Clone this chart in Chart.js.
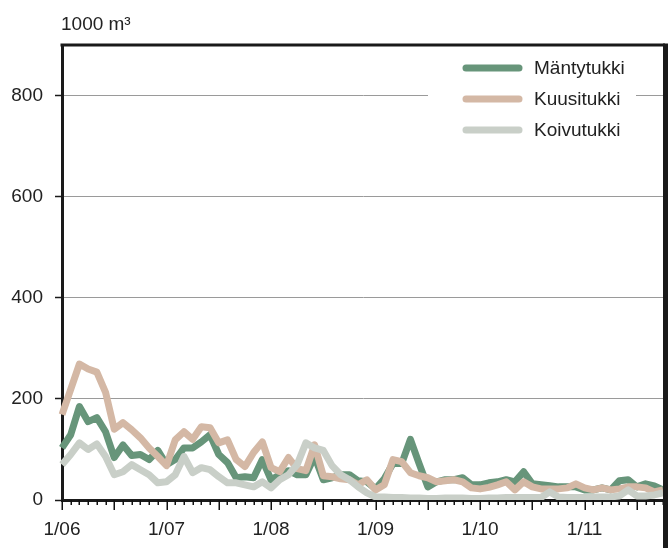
<!DOCTYPE html>
<html>
<head>
<meta charset="utf-8">
<script src="https://cdn.jsdelivr.net/npm/chart.js@4.4.0/dist/chart.umd.min.js"></script>
<style>
html, body { margin: 0; padding: 0; background: #fff; }
canvas { display: block; }
</style>
</head>
<body>
<canvas id="chart" width="668" height="548"></canvas>
<script>
// data, monthly 1/06 .. 10/11
const yearLabels = ['06', '07', '08', '09', '10', '11'];
const monthsPerYear = 12;
const unitLabel = '1000 m³';
const seriesNames = ['Mäntytukki', 'Kuusitukki', 'Koivutukki'];

const mantytukki = [103, 129, 185, 155, 163, 135, 84, 109, 88, 90, 80, 98,
    70, 80, 103, 103, 115, 129, 90, 74, 44, 46, 44, 80,
    40, 50, 58, 50, 50, 86, 40, 44, 50, 50, 38, 36,
    22, 42, 72, 72, 120, 72, 26, 36, 40, 40, 44, 30,
    30, 34, 36, 40, 36, 56, 32, 30, 28, 26, 26, 26,
    20, 20, 24, 20, 38, 40, 26, 32, 28, 20];
const kuusitukki = [169, 219, 269, 259, 253, 213, 140, 153, 139, 123, 103, 86,
    68, 119, 135, 120, 145, 143, 113, 119, 80, 66, 94, 115,
    64, 56, 84, 62, 58, 109, 48, 46, 42, 40, 30, 40,
    20, 30, 80, 76, 54, 48, 44, 36, 38, 40, 36, 24,
    22, 25, 30, 36, 20, 36, 26, 22, 22, 22, 24, 32,
    24, 20, 24, 20, 22, 26, 26, 24, 16, 20];
const koivutukki = [70, 90, 113, 100, 111, 86, 50, 56, 70, 60, 50, 34,
    36, 50, 86, 54, 64, 60, 46, 34, 34, 30, 26, 36,
    24, 40, 50, 70, 113, 103, 98, 68, 50, 40, 26, 14,
    6, 6, 5, 5, 4, 4, 3, 3, 4, 4, 4, 3,
    3, 4, 4, 5, 5, 5, 5, 5, 16, 6, 5, 5,
    5, 6, 6, 6, 8, 20, 8, 8, 10, 14];

const yMax = 900;
const yStep = 200;
const lastTick = 800;

const colors = ['#67957a', '#d4b8a5', '#c9cfc8'];
const fontFamily = "'Liberation Sans', Arial, sans-serif";

const categories = [];
yearLabels.forEach(function (yy) {
    for (let m = 1; m <= monthsPerYear; m++) categories.push(m + '/' + yy);
});
categories.length = mantytukki.length;

const frame = {
    id: 'frame',
    beforeDatasetsDraw(chart) {
        const ctx = chart.ctx;
        const a = chart.chartArea;
        const x = chart.scales.x;
        ctx.save();
        // month and half-year tick marks under the axis
        ctx.strokeStyle = '#111';
        ctx.lineWidth = 1.5;
        for (let i = 0; i < categories.length; i++) {
            const px = Math.round(x.getPixelForValue(i)) + 0.25;
            const len = i % 6 === 0 ? 10 : 5;
            ctx.beginPath();
            ctx.moveTo(px, a.bottom);
            ctx.lineTo(px, a.bottom + len);
            ctx.stroke();
        }
        // unit label
        ctx.fillStyle = '#222';
        ctx.font = '19px ' + fontFamily;
        ctx.textBaseline = 'alphabetic';
        ctx.textAlign = 'left';
        ctx.fillText(unitLabel, 61, 30);
        ctx.restore();
    },
    afterDatasetsDraw(chart) {
        const ctx = chart.ctx;
        const a = chart.chartArea;
        ctx.save();
        ctx.strokeStyle = '#1a1a1a';
        ctx.lineWidth = 3;
        ctx.beginPath();
        ctx.moveTo(a.left - 1.5, a.top);
        ctx.lineTo(a.right + 2, a.top);
        ctx.stroke();
        ctx.lineWidth = 5;
        ctx.beginPath();
        ctx.moveTo(a.right + 2.5, a.top - 1.5);
        ctx.lineTo(a.right + 2.5, chart.height);
        ctx.stroke();

        // legend inside the plot
        ctx.fillStyle = '#fff';
        ctx.fillRect(428, 52, 208, 96);
        ctx.font = '19px ' + fontFamily;
        ctx.textBaseline = 'middle';
        ctx.textAlign = 'left';
        chart.data.datasets.forEach(function (ds, i) {
            const yy = 68 + i * 31;
            ctx.strokeStyle = ds.borderColor;
            ctx.lineWidth = 7;
            ctx.lineCap = 'round';
            ctx.beginPath();
            ctx.moveTo(466, yy);
            ctx.lineTo(519, yy);
            ctx.stroke();
            ctx.fillStyle = '#222';
            ctx.fillText(ds.label, 534, yy + 1);
        });
        ctx.restore();
    }
};

function lineSet(label, data, color, order) {
    return {
        label: label,
        data: data,
        borderColor: color,
        backgroundColor: color,
        borderWidth: 7,
        borderJoinStyle: 'round',
        pointRadius: 0,
        tension: 0,
        order: order
    };
}

const chart = new Chart(document.getElementById('chart'), {
    type: 'line',
    data: {
        labels: categories,
        datasets: [
            lineSet(seriesNames[0], mantytukki, colors[0], 2),
            lineSet(seriesNames[1], kuusitukki, colors[1], 1),
            lineSet(seriesNames[2], koivutukki, colors[2], 0)
        ]
    },
    options: {
        responsive: false,
        animation: false,
        layout: { padding: { top: 45, right: 5, left: 0, bottom: 0 } },
        plugins: {
            legend: { display: false },
            tooltip: { enabled: false },
            title: { display: false }
        },
        scales: {
            x: {
                type: 'category',
                offset: false,
                afterFit: function (s) {
                    s.height = 48;
                    s.paddingLeft = 0;
                    s.paddingRight = 0;
                },
                grid: { display: false },
                border: { display: true, color: '#1a1a1a', width: 3 },
                ticks: {
                    autoSkip: false,
                    maxRotation: 0,
                    padding: 10,
                    color: '#222',
                    font: { family: fontFamily, size: 19 },
                    callback: function (v, i) {
                        return i % monthsPerYear === 0 ? categories[i] : '';
                    }
                }
            },
            y: {
                min: 0,
                max: yMax,
                afterFit: function (s) { s.width = 62; },
                afterBuildTicks: function (s) {
                    s.ticks = s.ticks.filter(function (t) { return t.value <= lastTick; });
                },
                grid: {
                    color: function (c) { return c.tick && c.tick.value === 0 ? 'rgba(0,0,0,0)' : '#9a9a9a'; },
                    lineWidth: 1,
                    tickColor: '#1a1a1a',
                    tickLength: 7,
                    tickWidth: 1.5
                },
                border: { display: true, color: '#1a1a1a', width: 3 },
                ticks: {
                    stepSize: yStep,
                    padding: 12,
                    color: '#222',
                    font: { family: fontFamily, size: 19 }
                }
            }
        }
    },
    plugins: [frame]
});
</script>
</body>
</html>
